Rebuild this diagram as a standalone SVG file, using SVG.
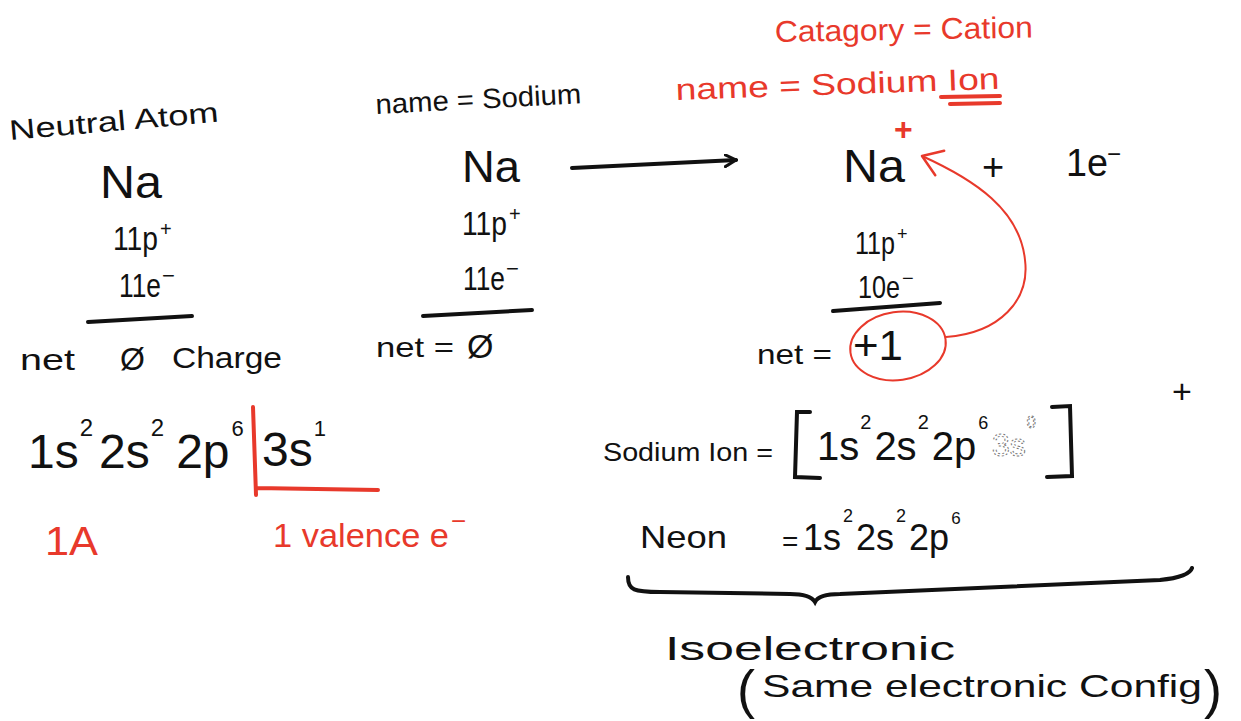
<svg xmlns="http://www.w3.org/2000/svg" width="1241" height="721" viewBox="0 0 1241 721">
<defs>
<style>
text{font-family:"Liberation Sans","Noto Sans",sans-serif;fill:#111}
.r{fill:#e8392b}
.ln{stroke:#111;stroke-width:4;stroke-linecap:round;fill:none}
.rl{stroke:#e8392b;stroke-width:4;stroke-linecap:round;fill:none}
.thin{stroke:#e8392b;stroke-width:2;fill:none}
.dash{fill:none;stroke:#777;stroke-width:1;stroke-dasharray:2 2}
</style>
<marker id="ah" markerWidth="14" markerHeight="14" refX="12" refY="7" orient="auto" markerUnits="userSpaceOnUse">
<path d="M1 1 L12 7 L1 13" fill="none" stroke="#111" stroke-width="3" stroke-linecap="round"/>
</marker>
<marker id="rah" markerWidth="32" markerHeight="32" refX="28" refY="16" orient="auto" markerUnits="userSpaceOnUse">
<path d="M28 16 L8 4 M28 16 L10 30" fill="none" stroke="#e8392b" stroke-width="2.5" stroke-linecap="round"/>
</marker>
</defs>
<rect width="1241" height="721" fill="#fff"/>

<g id="neutral-atom">
<text x="10" y="140" font-size="28" textLength="210" lengthAdjust="spacingAndGlyphs" transform="rotate(-5 10 140)">Neutral Atom</text>
<text x="100" y="198" font-size="46" textLength="62" lengthAdjust="spacingAndGlyphs">Na</text>
<text x="113" y="250" font-size="34"><tspan textLength="45" lengthAdjust="spacingAndGlyphs">11p</tspan><tspan dx="2" dy="-14" font-size="20">+</tspan></text>
<text x="119" y="297" font-size="34"><tspan textLength="42" lengthAdjust="spacingAndGlyphs">11e</tspan><tspan dx="1" dy="-14" font-size="22">−</tspan></text>
<path class="ln" d="M88 322 L192 316"/>
<text x="20" y="370" font-size="30" textLength="55" lengthAdjust="spacingAndGlyphs">net</text>
<text x="120" y="370" font-size="32">Ø</text>
<text x="172" y="368" font-size="30" textLength="110" lengthAdjust="spacingAndGlyphs">Charge</text>
</g>

<g id="sodium">
<text x="376" y="114" font-size="28" textLength="206" lengthAdjust="spacingAndGlyphs" transform="rotate(-3 376 114)">name = Sodium</text>
<text x="462" y="182" font-size="44" textLength="58" lengthAdjust="spacingAndGlyphs">Na</text>
<text x="462" y="235" font-size="34"><tspan textLength="45" lengthAdjust="spacingAndGlyphs">11p</tspan><tspan dx="2" dy="-14" font-size="20">+</tspan></text>
<text x="463" y="290" font-size="34"><tspan textLength="42" lengthAdjust="spacingAndGlyphs">11e</tspan><tspan dx="1" dy="-14" font-size="22">−</tspan></text>
<path class="ln" d="M423 316 L532 310"/>
<text x="376" y="357" font-size="28" textLength="78" lengthAdjust="spacingAndGlyphs">net =</text>
<text x="467" y="358" font-size="34">Ø</text>
</g>

<g id="sodium-ion">
<text class="r" x="775" y="42" font-size="30" textLength="258" lengthAdjust="spacingAndGlyphs" transform="rotate(-1 775 42)">Catagory = Cation</text>
<text class="r" x="676" y="100" font-size="30" textLength="324" lengthAdjust="spacingAndGlyphs" transform="rotate(-2 676 100)">name = Sodium Ion</text>
<path class="rl" d="M941 97 L1000 96 M950 104 L1000 103" stroke-width="3"/>
<text x="843" y="182" font-size="46"><tspan textLength="62" lengthAdjust="spacingAndGlyphs">Na</tspan><tspan class="r" dx="-11" dy="-42" font-size="32" font-weight="bold">+</tspan></text>
<text x="982" y="180" font-size="38">+</text>
<text x="1066" y="176" font-size="38"><tspan textLength="42" lengthAdjust="spacingAndGlyphs">1e</tspan><tspan dx="-1" dy="-14" font-size="24">−</tspan></text>
<text x="855" y="254" font-size="32"><tspan textLength="40" lengthAdjust="spacingAndGlyphs">11p</tspan><tspan dx="2" dy="-14" font-size="18">+</tspan></text>
<text x="858" y="298" font-size="32"><tspan textLength="42" lengthAdjust="spacingAndGlyphs">10e</tspan><tspan dx="2" dy="-13" font-size="20">−</tspan></text>
<path class="ln" d="M833 311 L940 303"/>
<text x="757" y="364" font-size="28" textLength="75" lengthAdjust="spacingAndGlyphs">net =</text>
<text x="853" y="360" font-size="42" textLength="50" lengthAdjust="spacingAndGlyphs">+1</text>
<ellipse class="thin" cx="898" cy="346" rx="48" ry="34" transform="rotate(-8 898 346)"/>
</g>

<g id="config-neutral">
<text x="28" y="468" font-size="48">1s<tspan dx="1" dy="-32" font-size="24">2</tspan><tspan dx="6" dy="32">2s</tspan><tspan dx="1" dy="-32" font-size="24">2</tspan><tspan dx="12" dy="32">2p</tspan><tspan dx="2" dy="-32" font-size="22">6</tspan></text>
<text x="262" y="466" font-size="48">3s<tspan dx="1" dy="-30" font-size="22">1</tspan></text>
<path class="rl" d="M253 407 L256 495 M256 488 L378 490"/>
<text class="r" x="45" y="555" font-size="40" textLength="53" lengthAdjust="spacingAndGlyphs">1A</text>
<text class="r" x="273" y="547" font-size="34"><tspan textLength="176" lengthAdjust="spacingAndGlyphs">1 valence e</tspan><tspan dx="2" dy="-17" font-size="26">−</tspan></text>
</g>

<g id="config-ion">
<text x="603" y="461" font-size="26" textLength="170" lengthAdjust="spacingAndGlyphs">Sodium Ion =</text>
<path class="ln" d="M810 412 L797 412 L795 477 L820 478"/>
<text x="817" y="460" font-size="40">1s<tspan dx="1" dy="-31" font-size="20">2</tspan><tspan dx="3" dy="31">2s</tspan><tspan dx="1" dy="-31" font-size="20">2</tspan><tspan dx="3" dy="31">2p</tspan><tspan dx="2" dy="-31" font-size="18">6</tspan></text>
<text class="dash" x="992" y="456" font-size="32" style="fill:none">3s<tspan dx="1" dy="-28" font-size="16">0</tspan></text>
<path class="ln" d="M1052 407 L1070 406 L1072 476 L1047 477"/>
<text x="1172" y="403" font-size="34">+</text>
</g>

<g id="neon">
<text x="640" y="548" font-size="32" textLength="87" lengthAdjust="spacingAndGlyphs">Neon</text>
<text x="782" y="551" font-size="28">=</text>
<text x="803" y="550" font-size="36">1s<tspan dx="2" dy="-28" font-size="18">2</tspan><tspan dx="3" dy="28">2s</tspan><tspan dx="2" dy="-28" font-size="18">2</tspan><tspan dx="3" dy="28">2p</tspan><tspan dx="2" dy="-26" font-size="17">6</tspan></text>
</g>

<g id="isoelectronic">
<text x="665" y="660" font-size="34" textLength="290" lengthAdjust="spacingAndGlyphs">Isoelectronic</text>
<text x="737" y="708" font-size="54">(</text>
<text x="762" y="697" font-size="32" textLength="440" lengthAdjust="spacingAndGlyphs">Same electronic Config</text>
<text x="1204" y="708" font-size="54">)</text>
</g>

<g id="connectors">
<path class="ln" d="M572 168 C640 165 700 162 736 160" stroke-width="3.5" marker-end="url(#ah)"/>
<path class="thin" d="M946 337 C1000 333 1030 300 1025 260 C1020 210 975 180 922 156" marker-end="url(#rah)"/>
<path class="ln" d="M628 577 C628 590 634 592 660 592 L790 594 C805 594 812 597 815 602 C818 596 826 594 840 594 L1160 580 C1180 578 1190 574 1192 568" stroke-width="3"/>
</g>
</svg>
